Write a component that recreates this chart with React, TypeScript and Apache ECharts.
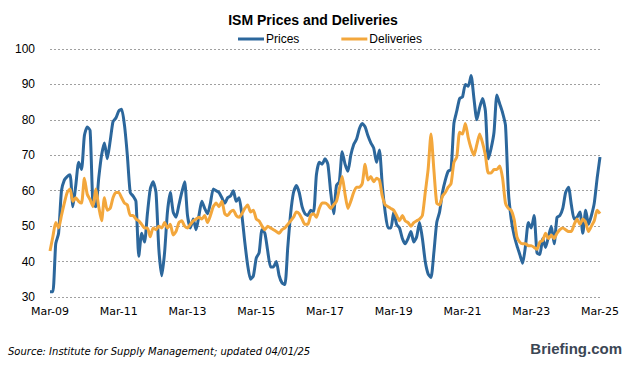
import React, { useEffect, useRef } from "react";
import * as echarts from "echarts";

const startYear = 2009;
const startMonth = 2; // March (0-based)
const monthNames = ["Jan", "Feb", "Mar", "Apr", "May", "Jun", "Jul", "Aug", "Sep", "Oct", "Nov", "Dec"];

const prices: number[] = [
  31.5, 31.5, 45, 48, 60, 63, 64, 64.5, 55.5, 61.5, 68, 66,
  75.5, 78, 77, 56, 55.5, 63.5, 70, 73.5, 69, 74, 79.5, 80.5,
  82.5, 83, 78.5, 70, 59.5, 58.5, 57, 41.5, 48, 45.5, 53.5, 60.5,
  62.5, 59.5, 43.5, 36, 42.5, 54, 59.5, 54, 52.5, 56, 59.5, 62.5,
  53, 49.5, 52, 49, 53, 57, 55, 53.5, 56.5, 60.5, 60, 59.5,
  58, 56.5, 58, 58.5, 60, 57, 58, 53, 45.5, 39, 35, 36,
  41, 42.5, 49, 48, 43, 38.5, 38.5, 40, 36, 34, 33.5, 44,
  53.5, 59.5, 61.5, 59.5, 55.5, 53.5, 53, 54.5, 54, 64.5, 68, 67.5,
  69, 67.5, 59.5, 53.5, 61.5, 62.5, 71, 67.5, 65.5, 70, 73, 74.5,
  77.5, 79, 78, 75.5, 73.5, 72, 68, 71.5, 61.5, 54, 49.5, 49.5,
  54, 50.5, 49.5, 46.5, 45, 46.5, 48.5, 45.5, 47, 51, 46.5, 40,
  36.5, 35.5, 42.5, 51, 54, 59.5, 63, 65.5, 66, 79, 82.5, 86,
  86.5, 90, 89.5, 92.5, 86, 80, 83.5, 86, 82.5, 69, 72, 76.5,
  87, 84.5, 82, 78.5, 60, 52, 47.5, 44.5, 42, 39.5, 44.5, 51,
  49.5, 53, 42.5, 42, 46.5, 44, 47, 50, 45, 52.5, 53, 55,
  59.5, 61, 56, 52, 52.5, 54, 48, 54.5, 50.5, 53, 56.5, 63.5,
  69.5,
];

const deliveries: number[] = [
  43, 47, 51, 49.5, 53, 56.5, 59.5, 60.5, 57, 58, 57, 56.5,
  63.5, 59, 57.5, 55.5, 60.5, 55.5, 51.5, 58, 54.5, 55, 58, 59.5,
  59.5, 58, 56.5, 56, 53, 53, 52, 51.5, 50.5, 49.5, 49.5, 47,
  49.5, 49, 50, 49.5, 51, 49.5, 50.5, 47.5, 48.5, 51, 51.5, 50,
  49.5, 50.5, 51.5, 52, 52.5, 52, 53, 51, 53, 55.5, 56.5, 55.5,
  57, 53.5, 53, 54, 54.5, 53, 52.5, 53.5, 55, 56, 54, 54.5,
  52, 51.5, 50, 49, 50, 49.5, 49, 48.5, 48, 49, 49.5, 50.5,
  51.5, 52.5, 54, 53.5, 52, 50.5, 50.5, 53, 53.5, 52.5, 55, 56.5,
  56.5, 56, 55, 56, 57, 60.5, 64, 59, 55, 57, 59.5, 61,
  61, 62, 67.5, 63, 64, 62.5, 63.5, 63, 58.5, 56, 55.5, 55,
  54.5, 53, 51.5, 53, 51.5, 51, 50, 51, 51.5, 52, 53, 59.5,
  66, 76, 66, 56.5, 56, 58.5, 59.5, 61, 62, 68, 69.5, 76.5,
  76, 79, 75, 72, 70, 73, 76, 73.5, 70, 65, 65, 66,
  66, 67, 63.5, 56.5, 55, 54.5, 52, 47, 45.5, 45, 45, 44.5,
  44.5, 44, 43.5, 45.5, 46, 48, 46.5, 47.5, 46.5, 48, 49, 49.5,
  49, 48.5, 48.5, 50.5, 52, 50.5, 52, 51, 48.5, 50, 51.5, 54.5,
  53.5,
];

const categories: string[] = prices.map((_, i) => {
  const m = startMonth + i;
  const y = startYear + Math.floor(m / 12);
  return monthNames[m % 12] + "-" + String(y % 100).padStart(2, "0");
});

const yMin = 30;
const yMax = 100;
const yStep = 10;

export default function App() {
  const ref = useRef<HTMLDivElement>(null);
  useEffect(() => {
    if (!ref.current) return;
    document.body.style.margin = "0";
    const chart = echarts.init(ref.current, null, { renderer: "svg" });
    chart.setOption({
      animation: false,
      backgroundColor: "#ffffff",
      title: {
        text: "ISM Prices and Deliveries",
        left: "center",
        top: 8,
        textStyle: { fontFamily: "Liberation Sans", fontSize: 14, fontWeight: "bold", color: "#000" },
      },
      legend: {
        top: 28,
        left: 233,
        itemWidth: 26,
        itemHeight: 3,
        itemGap: 42,
        icon: "rect",
        textStyle: { fontFamily: "Liberation Sans", fontSize: 12, color: "#000", padding: [0, 0, 0, -3] },
        data: ["Prices", "Deliveries"],
      },
      grid: { left: 50, right: 26, top: 49, bottom: 70, containLabel: false },
      xAxis: {
        type: "category",
        data: categories,
        boundaryGap: false,
        axisLine: { show: false },
        axisTick: { show: false },
        axisLabel: {
          interval: 23,
          margin: 9,
          fontFamily: "DejaVu Sans",
          fontSize: 11,
          color: "#000",
          showMaxLabel: true,
        },
        splitLine: { show: false },
      },
      yAxis: {
        type: "value",
        min: yMin,
        max: yMax,
        interval: yStep,
        axisLine: { show: false },
        axisTick: { show: false },
        axisLabel: { margin: 15, fontFamily: "Liberation Sans", fontSize: 12, color: "#000" },
        splitLine: { show: true, lineStyle: { color: "#a0a0a0", type: [2, 2], width: 1 } },
      },
      series: [
        {
          name: "Prices",
          type: "line",
          data: prices,
          showSymbol: false,
          smooth: 0.2,
          lineStyle: { color: "#2c679c", width: 3 },
          itemStyle: { color: "#2c679c" },
          z: 2,
        },
        {
          name: "Deliveries",
          type: "line",
          data: deliveries,
          showSymbol: false,
          smooth: 0.2,
          lineStyle: { color: "#f3a73c", width: 3 },
          itemStyle: { color: "#f3a73c" },
          z: 3,
        },
      ],
      graphic: [
        {
          type: "text",
          left: 8,
          top: 346,
          style: {
            text: "Source: Institute for Supply Management; updated 04/01/25",
            fontFamily: "DejaVu Sans",
            fontStyle: "italic",
            fontSize: 10,
            fill: "#000",
          },
        },
        {
          type: "text",
          right: 4,
          top: 341,
          style: {
            text: "Briefing.com",
            fontFamily: "Liberation Sans",
            fontWeight: "bold",
            fontSize: 15,
            fill: "#3b4654",
          },
        },
      ],
    });
    return () => chart.dispose();
  }, []);
  return <div ref={ref} style={{ width: 626, height: 367 }} />;
}
